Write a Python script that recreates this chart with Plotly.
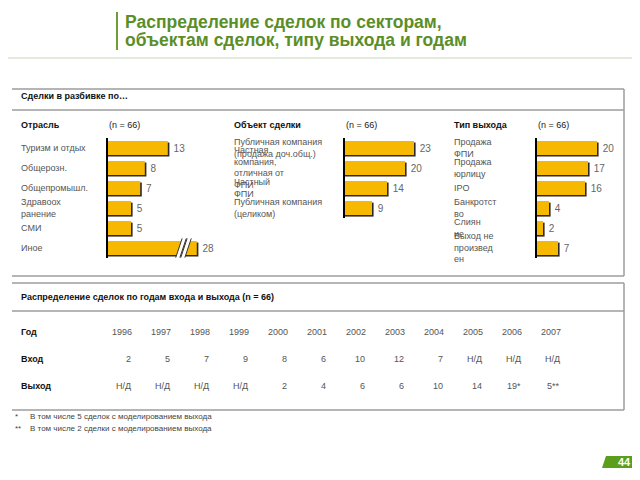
import plotly.graph_objects as go

# ---------------- data ----------------
title_lines = ["Распределение сделок по секторам,", "объектам сделок, типу выхода и годам"]
section1_title = "Сделки в разбивке по…"
n_label = "(n = 66)"

sector_title = "Отрасль"
sector_labels = ["Туризм и отдых", "Общерозн.", "Общепромышл.", "Здравоох<br>ранение", "СМИ", "Иное"]
sector_values = [13, 8, 7, 5, 5, 28]

object_title = "Объект сделки"
object_labels = ["Публичная компания<br>(продажа доч.общ.)", "Частная<br>компания,<br>отличная от<br>ФПИ",
                 "Частный<br>ФПИ", "Публичная компания<br>(целиком)"]
object_values = [23, 20, 14, 9]

exit_title = "Тип выхода"
exit_labels = ["Продажа<br>ФПИ", "Продажа<br>юрлицу", "IPO", "Банкротст<br>во", "Слиян<br>ие", "Выход не<br>произвед<br>ен"]
exit_values = [20, 17, 16, 4, 2, 7]

section2_title = "Распределение сделок по годам входа и выхода (n = 66)"
row_labels = ["Год", "Вход", "Выход"]
years = ["1996", "1997", "1998", "1999", "2000", "2001", "2002", "2003", "2004", "2005", "2006", "2007"]
entries = ["2", "5", "7", "9", "8", "6", "10", "12", "7", "Н/Д", "Н/Д", "Н/Д"]
exits = ["Н/Д", "Н/Д", "Н/Д", "Н/Д", "2", "4", "6", "6", "10", "14", "19*", "5**"]

footnote_marks = ["*", "**"]
footnote_texts = ["В том числе 5 сделок с моделированием выхода", "В том числе 2 сделки с моделированием выхода"]
page_number = "44"

# display constant: the "Иное" bar is drawn broken at this length
SECTOR_BREAK = 19.3

# ---------------- style ----------------
W, H = 640, 480
OFF = 8  # the page body margin that shifts the figure in the browser
FONT = "Liberation Sans, Arial, sans-serif"
BAR = "#F6B800"
SHADOW = "#2a2a2a"
GREEN = "#5b8e27"
LINE = "#9c9c9c"

def X(px):
    return (px - OFF) / W

def Y(py):
    return 1 - (py - OFF) / H

fig = go.Figure()
annotations = []
shapes = []

def txt(x, y, s, size=9, color="#444", bold=False, xanchor="left", yanchor="middle",
        align="left", xref="paper", yref="paper"):
    if bold:
        s = "<b>" + s + "</b>"
    annotations.append(dict(
        x=x, y=y, xref=xref, yref=yref, text=s, showarrow=False,
        xanchor=xanchor, yanchor=yanchor, align=align, borderpad=0,
        font=dict(size=size, color=color, family=FONT)))

def hline(x0, x1, y, color=LINE, width=1.5):
    shapes.append(dict(type="line", xref="paper", yref="paper", x0=X(x0), x1=X(x1),
                       y0=Y(y), y1=Y(y), line=dict(color=color, width=width)))

def vline(x, y0, y1, color=LINE, width=1.5):
    shapes.append(dict(type="line", xref="paper", yref="paper", x0=X(x), x1=X(x),
                       y0=Y(y0), y1=Y(y1), line=dict(color=color, width=width)))

# ---------------- bar charts ----------------
charts = [
    # (axis suffix, values, labels, x0 px, x1 px, px per unit, label x px)
    ("", sector_values, sector_labels, 108, 240, 4.6, 20),
    ("2", object_values, object_labels, 345, 440, 3.0, 233),
    ("3", exit_values, exit_labels, 537, 622, 3.0, 453),
]

TOP = 138
ROW = 20
for suf, vals, labels, x0, x1, ppu, lx in charts:
    n = len(vals)
    ys = list(range(n))
    shown = [min(v, SECTOR_BREAK) if suf == "" else v for v in vals]
    dx = 1.6 / ppu
    dy = 1.6 / ROW
    xa = "x" + suf
    ya = "y" + suf
    # shadow
    fig.add_trace(go.Bar(
        x=[v + dx for v in shown], y=ys, orientation="h", width=0.7, offset=-0.35 + dy,
        marker=dict(color=SHADOW, line=dict(width=0)), xaxis=xa, yaxis=ya,
        hoverinfo="skip", showlegend=False))
    # main bar
    fig.add_trace(go.Bar(
        x=shown, y=ys, orientation="h", width=0.7, offset=-0.35,
        marker=dict(color=BAR, line=dict(width=0)), xaxis=xa, yaxis=ya,
        text=[str(v) for v in vals], texttemplate=" %{text}", textposition="outside",
        cliponaxis=False, constraintext="none",
        textfont=dict(size=10, color="#666", family=FONT),
        hoverinfo="skip", showlegend=False))
    axname = "xaxis" + suf
    ayname = "yaxis" + suf
    fig.update_layout({
        axname: dict(domain=[X(x0), X(x1)], range=[0, (x1 - x0) / ppu], visible=False,
                     anchor=ya, fixedrange=True),
        ayname: dict(domain=[Y(TOP + n * ROW), Y(TOP)], range=[n - 0.5, -0.5],
                     showline=True, linecolor="#000", linewidth=2, showticklabels=False,
                     ticks="", showgrid=False, zeroline=False, anchor=xa, fixedrange=True),
    })
    for i, lab in enumerate(labels):
        txt(X(lx), i, lab, size=9, color="#555", xref="paper", yref=ya)

# break marks on the "Иное" bar
brk_row = len(sector_values) - 1
for cx_px in (181, 186):
    cx = (cx_px - 108) / 4.6
    s = 3.2 / 4.6
    for off, col, wd in ((0, "#ffffff", 4), (-0.45, "#333", 1), (0.45, "#333", 1)):
        shapes.append(dict(type="line", xref="x", yref="y",
                           x0=cx - s + off, x1=cx + s + off,
                           y0=brk_row + 0.48, y1=brk_row - 0.48,
                           line=dict(color=col, width=wd)))

# ---------------- title ----------------
vline(117, 12, 50, color="#6f9c35", width=2)
txt(X(124), Y(22), title_lines[0], size=17.5, color=GREEN, bold=True)
txt(X(124), Y(40), title_lines[1], size=17.5, color=GREEN, bold=True)
hline(OFF, 640, 58, color="#e4eadc", width=2)

# ---------------- section 1 box ----------------
hline(12, 624, 89)
hline(12, 624, 110)
hline(12, 624, 276)
vline(624, 89, 276)
txt(X(20), Y(96), section1_title, size=9, color="#111", bold=True)

txt(X(20), Y(125), sector_title, size=9, color="#111", bold=True)
txt(X(108), Y(125), n_label, size=9, color="#222")
txt(X(233), Y(125), object_title, size=9, color="#111", bold=True)
txt(X(345), Y(125), n_label, size=9, color="#222")
txt(X(453), Y(125), exit_title, size=9, color="#111", bold=True)
txt(X(537), Y(125), n_label, size=9, color="#222")

# ---------------- section 2 box (table) ----------------
hline(12, 624, 283)
hline(12, 624, 311)
hline(12, 624, 410)
vline(624, 283, 410)
txt(X(20), Y(297), section2_title, size=9, color="#111", bold=True)

row_y = [332, 359, 386]
for lab, yy in zip(row_labels, row_y):
    txt(X(20), Y(yy), lab, size=9, color="#111", bold=True)
for i, (yr, en, ex) in enumerate(zip(years, entries, exits)):
    cx = 122 + i * 39
    txt(X(cx), Y(row_y[0]), yr, size=9, color="#555", xanchor="center")
    txt(X(cx + 10), Y(row_y[1]), en, size=9, color="#555", xanchor="right")
    txt(X(cx + 10), Y(row_y[2]), ex, size=9, color="#555", xanchor="right")

# ---------------- footnotes ----------------
for mark, t, yy in zip(footnote_marks, footnote_texts, (416, 428)):
    txt(X(14), Y(yy), mark, size=8, color="#444")
    txt(X(29), Y(yy), t, size=8, color="#444")

# ---------------- page number badge ----------------
shapes.append(dict(type="path", xref="paper", yref="paper",
                   path=f"M {X(602)},{Y(468)} L {X(640)},{Y(468)} L {X(640)},{Y(456)} L {X(606)},{Y(456)} Z",
                   fillcolor="#5a9e1c", line=dict(width=0)))
txt(X(624), Y(462), page_number, size=11, color="#ffffff", bold=True, xanchor="center")

fig.update_layout(
    width=W, height=H, margin=dict(l=0, r=0, t=0, b=0),
    paper_bgcolor="white", plot_bgcolor="rgba(0,0,0,0)",
    barmode="overlay", showlegend=False,
    annotations=annotations, shapes=shapes,
    font=dict(family=FONT),
)

fig.write_html("out.html")
